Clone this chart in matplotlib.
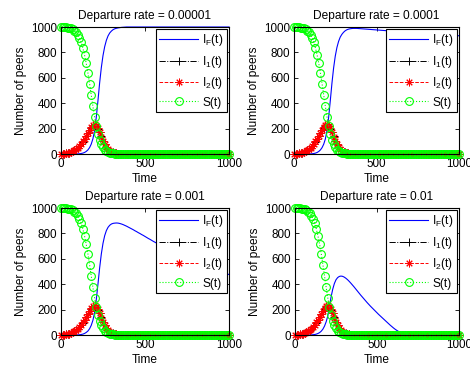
import numpy as np
import matplotlib
matplotlib.use('Agg')
import matplotlib.pyplot as plt

plt.rcParams['font.family'] = ['Liberation Sans', 'DejaVu Sans']
plt.rcParams['mathtext.default'] = 'regular'

# time grid (one sample every 10 time units)
t = np.arange(0, 1001, 10)

titles = ['Departure rate = 0.00001', 'Departure rate = 0.0001',
          'Departure rate = 0.001', 'Departure rate = 0.01']

# susceptible peers
S = [1000, 1000, 999, 998, 996, 993, 989, 982, 972, 958,
     940, 915, 880, 835, 780, 715, 640, 555, 465, 375,
     292, 220, 160, 113, 78, 53, 35, 23, 15, 10,
     6, 4, 2, 1, 1, 0, 0, 0, 0, 0,
     0, 0, 0, 0, 0, 0, 0, 0, 0, 0,
     0, 0, 0, 0, 0, 0, 0, 0, 0, 0,
     0, 0, 0, 0, 0, 0, 0, 0, 0, 0,
     0, 0, 0, 0, 0, 0, 0, 0, 0, 0,
     0, 0, 0, 0, 0, 0, 0, 0, 0, 0,
     0, 0, 0, 0, 0, 0, 0, 0, 0, 0,
     0]

I1 = [1, 2, 3, 5, 7, 10, 14, 20, 28, 38,
      50, 64, 80, 98, 118, 140, 163, 187, 208, 224,
      230, 222, 200, 170, 138, 106, 78, 56, 39, 27,
      18, 12, 8, 5, 3, 2, 1, 1, 0, 0,
      0, 0, 0, 0, 0, 0, 0, 0, 0, 0,
      0, 0, 0, 0, 0, 0, 0, 0, 0, 0,
      0, 0, 0, 0, 0, 0, 0, 0, 0, 0,
      0, 0, 0, 0, 0, 0, 0, 0, 0, 0,
      0, 0, 0, 0, 0, 0, 0, 0, 0, 0,
      0, 0, 0, 0, 0, 0, 0, 0, 0, 0,
      0]

I2 = [1, 2, 3, 5, 7, 10, 15, 21, 29, 39,
      51, 65, 81, 100, 121, 144, 168, 192, 213, 229,
      233, 224, 201, 170, 137, 105, 77, 55, 38, 26,
      17, 11, 7, 5, 3, 2, 1, 1, 0, 0,
      0, 0, 0, 0, 0, 0, 0, 0, 0, 0,
      0, 0, 0, 0, 0, 0, 0, 0, 0, 0,
      0, 0, 0, 0, 0, 0, 0, 0, 0, 0,
      0, 0, 0, 0, 0, 0, 0, 0, 0, 0,
      0, 0, 0, 0, 0, 0, 0, 0, 0, 0,
      0, 0, 0, 0, 0, 0, 0, 0, 0, 0,
      0]

# peers holding the full file, one list per departure rate
IF_a = [0, 0, 0, 0, 0, 0, 0, 0, 0, 0,
        1, 2, 4, 7, 12, 20, 32, 50, 78, 120,
        185, 290, 420, 560, 680, 775, 845, 895, 930, 953,
        968, 979, 986, 990, 993, 995, 997, 998, 999, 1000,
        1000, 1000, 1000, 1000, 1000, 1000, 1000, 1000, 1000, 1000,
        1000, 1000, 1000, 1000, 1000, 1000, 1000, 1000, 1000, 1000,
        1000, 1000, 1000, 1000, 1000, 1000, 1000, 1000, 1000, 1000,
        1000, 1000, 1000, 1000, 1000, 1000, 1000, 1000, 1000, 1000,
        1000, 1000, 1000, 1000, 1000, 1000, 1000, 1000, 1000, 1000,
        1000, 1000, 1000, 1000, 1000, 1000, 1000, 1000, 1000, 1000,
        1000]

IF_b = [0, 0, 0, 0, 0, 0, 0, 0, 0, 0,
        1, 2, 4, 7, 12, 20, 32, 50, 77, 118,
        185, 290, 420, 558, 677, 770, 838, 886, 920, 942,
        958, 970, 978, 983, 986, 988, 989, 989, 989, 988,
        987, 986, 985, 984, 983, 982, 981, 980, 979, 978,
        977, 976, 975, 974, 973, 972, 971, 970, 969, 968,
        967, 966, 965, 964, 963, 962, 961, 960, 959, 958,
        957, 956, 955, 954, 953, 953, 952, 951, 950, 949,
        948, 947, 946, 945, 944, 944, 943, 942, 941, 940,
        939, 938, 937, 937, 936, 935, 934, 933, 932, 932,
        931]

IF_c = [0, 0, 0, 0, 0, 0, 0, 0, 0, 0,
        1, 2, 4, 7, 12, 20, 31, 49, 76, 116,
        178, 278, 400, 528, 638, 722, 782, 822, 848, 864,
        874, 879, 881, 882, 881, 878, 874, 869, 863, 857,
        850, 843, 836, 829, 821, 814, 806, 799, 791, 784,
        776, 768, 760, 753, 745, 737, 730, 723, 716, 709,
        702, 695, 688, 681, 675, 668, 662, 655, 649, 643,
        637, 631, 625, 619, 613, 607, 601, 595, 590, 584,
        578, 573, 567, 562, 556, 551, 546, 541, 535, 530,
        525, 520, 515, 510, 505, 500, 495, 490, 486, 481,
        476]

IF_d = [0, 0, 0, 0, 0, 0, 0, 0, 0, 0,
        1, 2, 4, 7, 12, 19, 30, 46, 70, 104,
        150, 225, 300, 360, 405, 435, 452, 461, 464, 462,
        456, 447, 436, 423, 409, 394, 379, 363, 347, 331,
        315, 300, 285, 270, 255, 241, 227, 214, 201, 188,
        175, 162, 150, 138, 126, 114, 102, 90, 78, 67,
        56, 46, 37, 29, 22, 16, 12, 9, 6, 4,
        3, 2, 1, 1, 1, 0, 0, 0, 0, 0,
        0, 0, 0, 0, 0, 0, 0, 0, 0, 0,
        0, 0, 0, 0, 0, 0, 0, 0, 0, 0,
        0]

IF_all = [IF_a, IF_b, IF_c, IF_d]

fig = plt.figure(figsize=(4.7, 3.69), dpi=100)
W, H = 470.0, 369.0
# axes boxes in pixels: left, top, right, bottom
boxes = [(61, 27, 229, 154), (294, 27, 459, 154),
         (61, 208, 229, 335), (295, 208, 459, 335)]

for k in range(4):
    l, tp, r, b = boxes[k]
    ax = fig.add_axes([l / W, 1 - b / H, (r - l) / W, (b - tp) / H])
    ax.plot(t, IF_all[k], '-', color='#0000ff', lw=0.8, label='I$_F$(t)', clip_on=False)
    ax.plot(t, I1, '-.', color='black', lw=0.7, marker='+', ms=5.5, mew=0.7,
            label='I$_1$(t)', clip_on=False)
    ax.plot(t, I2, '--', color='#ff0000', lw=0.7, marker=(8, 2, 0), ms=5.5, mew=0.7,
            label='I$_2$(t)', clip_on=False)
    ax.plot(t, S, ':', color='#00ff00', lw=0.8, marker='o', ms=5.6, mew=0.8,
            mfc='none', label='S(t)', clip_on=False)
    ax.set_xlim(0, 1000)
    ax.set_ylim(0, 1000)
    ax.set_xticks([0, 500, 1000])
    ax.set_yticks([0, 200, 400, 600, 800, 1000])
    ax.tick_params(direction='in', top=True, right=True, length=3, width=0.6,
                   labelsize=8.4, pad=3)
    for sp in ax.spines.values():
        sp.set_linewidth(0.8)
    ax.set_title(titles[k], fontsize=8.6, pad=6)
    ax.set_xlabel('Time', fontsize=8.6, labelpad=2)
    ax.set_ylabel('Number of peers', fontsize=8.6, labelpad=3)
    leg = ax.legend(loc='upper right', bbox_to_anchor=(0.99, 0.985), borderaxespad=0,
                    fontsize=8.6, numpoints=1, handlelength=3.2, handletextpad=0.4,
                    labelspacing=0.45, borderpad=0.3, fancybox=False, framealpha=1)
    leg.get_frame().set_edgecolor('black')
    leg.get_frame().set_linewidth(0.8)

fig.savefig('out.png', dpi=100)
